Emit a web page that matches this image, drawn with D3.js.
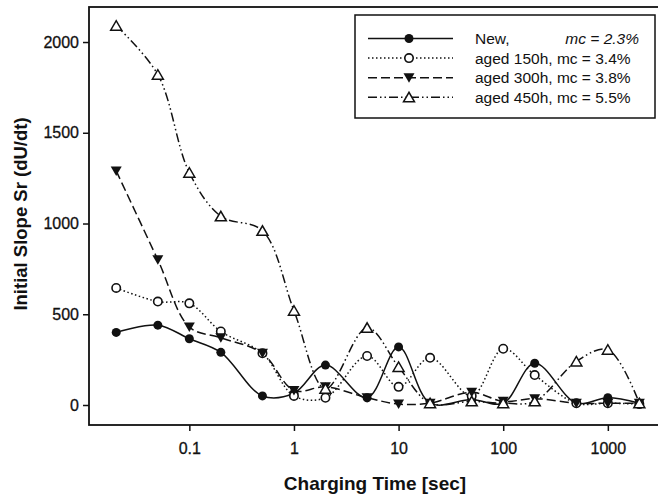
<!DOCTYPE html>
<html><head><meta charset="utf-8">
<script src="https://cdn.jsdelivr.net/npm/d3@7"></script>
<style>body{margin:0;background:#fff;} svg{display:block;font-family:"Liberation Sans",Arial,sans-serif;}</style>
</head><body><svg id="c" width="658" height="497"></svg>
<script>
const times = [0.02,0.05,0.1,0.2,0.5,1,2,5,10,20,50,100,200,500,1000,2000];
const newVals  = [400,440,365,290,50,65,220,40,320,10,30,10,230,10,40,10];
const aged150 = [645,570,560,405,285,50,40,270,100,260,50,310,165,10,10,5];
const aged300 = [1290,800,430,370,285,80,100,40,5,10,70,20,35,10,10,10];
const aged450 = [2090,1820,1280,1040,960,520,90,425,210,10,20,10,20,240,305,10];
const xTicks = [0.1,1,10,100,1000];
const xTickLabels = ["0.1","1","10","100","1000"];
const yTicks = [0,500,1000,1500,2000];
const seriesNames = ["New,","aged 150h, mc = 3.4%","aged 300h, mc = 3.8%","aged 450h, mc = 5.5%"];

const svg = d3.select("#c");
const L=89, R=659, T=7, B=425;
const x = d3.scaleLog().domain([0.01099,3083]).range([L,R]);
const y = d3.scaleLinear().domain([-110.2,2193]).range([B,T]);

const series = [
  {vals:newVals, dash:null, marker:"fcircle"},
  {vals:aged150, dash:"1.5,2.5", marker:"ocircle"},
  {vals:aged300, dash:"9,4", marker:"ftri"},
  {vals:aged450, dash:"9,3,1.5,3,1.5,3", marker:"otri"}
];

svg.append("rect").attr("x",L).attr("y",T).attr("width",R-L).attr("height",B-T)
  .attr("fill","none").attr("stroke","#111").attr("stroke-width",1.8);

const yAxis = d3.axisLeft(y).tickValues(yTicks).tickSize(6).tickPadding(4).tickFormat(d3.format("d"));
const gy = svg.append("g").attr("transform",`translate(${L},0)`).call(yAxis);
gy.select(".domain").remove();
gy.selectAll("line").attr("stroke","#111").attr("stroke-width",1.5);
gy.selectAll("text").attr("font-size",16).attr("fill","#111").attr("stroke","#111").attr("stroke-width",0.3).attr("font-family","Liberation Sans, Arial");

const xAxis = d3.axisBottom(x).tickValues(xTicks).tickSize(6).tickPadding(12).tickFormat((d,i)=>xTickLabels[i]);
const gx = svg.append("g").attr("transform",`translate(0,${B})`).call(xAxis);
gx.select(".domain").remove();
gx.selectAll("line").attr("stroke","#111").attr("stroke-width",1.5);
gx.selectAll("text").attr("font-size",16).attr("fill","#111").attr("stroke","#111").attr("stroke-width",0.3).attr("font-family","Liberation Sans, Arial");

svg.append("text").attr("x",375).attr("y",490).attr("text-anchor","middle")
  .attr("font-size",19).attr("font-weight","bold").attr("fill","#111").text("Charging Time [sec]");
svg.append("text").attr("transform","translate(27,214) rotate(-90)").attr("text-anchor","middle")
  .attr("font-size",18.5).attr("font-weight","bold").attr("fill","#111").text("Initial Slope Sr (dU/dt)");

const line = d3.line().x(d=>x(d[0])).y(d=>y(d[1])).curve(d3.curveCatmullRom.alpha(0.5));

function drawMarker(g, type, cx, cy){
  if(type==="fcircle") g.append("circle").attr("cx",cx).attr("cy",cy).attr("r",4.5).attr("fill","#111");
  else if(type==="ocircle") g.append("circle").attr("cx",cx).attr("cy",cy).attr("r",4.2).attr("fill","#fff").attr("stroke","#111").attr("stroke-width",1.6);
  else if(type==="ftri") g.append("path").attr("d",`M${cx-5.5},${cy-4.5}L${cx+5.5},${cy-4.5}L${cx},${cy+5}Z`).attr("fill","#111");
  else if(type==="otri") g.append("path").attr("d",`M${cx-5.5},${cy+4.5}L${cx+5.5},${cy+4.5}L${cx},${cy-5}Z`).attr("fill","#fff").attr("stroke","#111").attr("stroke-width",1.5);
}

svg.append("clipPath").attr("id","pc").append("rect").attr("x",L).attr("y",T).attr("width",R-L).attr("height",B-T);
const plot = svg.append("g");
series.forEach(s=>{
  const pts = times.map((t,i)=>[t,s.vals[i]]);
  plot.append("path").attr("d",line(pts)).attr("fill","none").attr("stroke","#111")
    .attr("stroke-width",1.5).attr("stroke-dasharray",s.dash).attr("clip-path","url(#pc)");
});
series.forEach(s=>{
  times.forEach((t,i)=>drawMarker(plot,s.marker,x(t),y(s.vals[i])));
});

const lg = svg.append("g");
lg.append("rect").attr("x",355).attr("y",15).attr("width",300).attr("height",103)
  .attr("fill","#fff").attr("stroke","#111").attr("stroke-width",1.5);
series.forEach((s,i)=>{
  const cy = 38.5 + i*19.6;
  lg.append("line").attr("x1",368).attr("x2",453).attr("y1",cy).attr("y2",cy)
    .attr("stroke","#111").attr("stroke-width",1.5).attr("stroke-dasharray",s.dash);
  drawMarker(lg,s.marker,409,cy);
  lg.append("text").attr("x",475).attr("y",cy+5.5).attr("font-size",15.5).attr("fill","#111").text(seriesNames[i]);
});
lg.append("text").attr("x",639).attr("y",38.5+5.5).attr("text-anchor","end").attr("font-size",15.5)
  .attr("font-style","italic").attr("fill","#111").text("mc = 2.3%");
</script></body></html>
